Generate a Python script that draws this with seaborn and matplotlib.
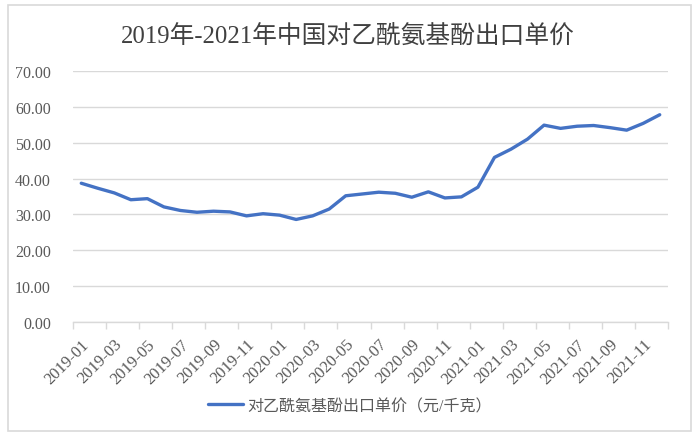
import numpy as np
import pandas as pd
import matplotlib
matplotlib.use("Agg")
import matplotlib.pyplot as plt
import matplotlib.patches as patches
import seaborn as sns

months = [
    "2019-01", "2019-02", "2019-03", "2019-04", "2019-05", "2019-06",
    "2019-07", "2019-08", "2019-09", "2019-10", "2019-11", "2019-12",
    "2020-01", "2020-02", "2020-03", "2020-04", "2020-05", "2020-06",
    "2020-07", "2020-08", "2020-09", "2020-10", "2020-11", "2020-12",
    "2021-01", "2021-02", "2021-03", "2021-04", "2021-05", "2021-06",
    "2021-07", "2021-08", "2021-09", "2021-10", "2021-11", "2021-12",
]
price = [
    38.7, 37.3, 36.0, 34.1, 34.4, 32.1,
    31.1, 30.6, 30.9, 30.7, 29.6, 30.2,
    29.8, 28.6, 29.6, 31.5, 35.2, 35.7,
    36.2, 35.9, 34.8, 36.3, 34.6, 34.9,
    37.6, 45.9, 48.2, 51.0, 54.9, 54.0,
    54.6, 54.8, 54.2, 53.5, 55.4, 57.8,
]
series_name = "对乙酰氨基酚出口单价（元/千克）"
title = "2019年-2021年中国对乙酰氨基酚出口单价"
y_ticks = [0, 10, 20, 30, 40, 50, 60, 70]

sns.set_theme(style="white")
fam = ["Liberation Serif", "Noto Sans CJK SC", "DejaVu Sans"]
plt.rcParams["font.family"] = fam

df = pd.DataFrame({"idx": np.arange(len(months)), "price": price, "series": series_name})

fig = plt.figure(figsize=(7.0, 4.39), dpi=100)
ax = fig.add_axes([73 / 700, 1 - 323 / 439, (668 - 73) / 700, (323 - 72) / 439])

sns.lineplot(data=df, x="idx", y="price", hue="series", palette=["#4472C4"],
             linewidth=2.4, ax=ax, legend=True)

gray = "#595959"
ax.set_xlim(-0.5, len(months) - 0.5)
ax.set_ylim(0, 70)
ax.set_yticks(y_ticks)
ax.set_yticklabels([f"{v:.2f}" for v in y_ticks], color=gray, fontsize=11.5)
ax.yaxis.grid(True, color="#d9d9d9", linewidth=1)
ax.xaxis.grid(False)
ax.tick_params(axis="y", length=0, pad=16)

lab_idx = np.arange(0, len(months), 2)
ax.set_xticks(lab_idx)
ax.set_xticklabels([months[i] for i in lab_idx], rotation=45, ha="right",
                   va="top", rotation_mode="anchor", color=gray, fontsize=12)
ax.tick_params(axis="x", which="major", length=0, pad=10)
ax.set_xticks(np.arange(-0.5, len(months), 2), minor=True)
ax.tick_params(axis="x", which="minor", length=5, width=1, color="#d9d9d9", bottom=True)

for s in ["top", "right", "left"]:
    ax.spines[s].set_visible(False)
ax.spines["bottom"].set_color("#d9d9d9")
ax.spines["bottom"].set_linewidth(1)
ax.set_xlabel("")
ax.set_ylabel("")

handles, labels = ax.get_legend_handles_labels()
ax.legend(handles, labels, loc="center", bbox_to_anchor=(350 / 700, 1 - 407 / 439),
          bbox_transform=fig.transFigure, frameon=False, handlelength=2.2,
          handletextpad=0.3, prop={"family": fam, "size": 11.5},
          labelcolor=gray)

fig.text(348 / 700, 1 - 37 / 439, title, ha="center", va="center",
         fontsize=17.8, color="#404040", family=fam)

border = patches.Rectangle((8 / 700, 1 - 432 / 439), (691 - 8) / 700, (432 - 6) / 439,
                           transform=fig.transFigure, fill=False,
                           edgecolor="#d9d9d9", linewidth=1.2)
fig.patches.append(border)

fig.savefig("out.png", dpi=100, facecolor="white")
